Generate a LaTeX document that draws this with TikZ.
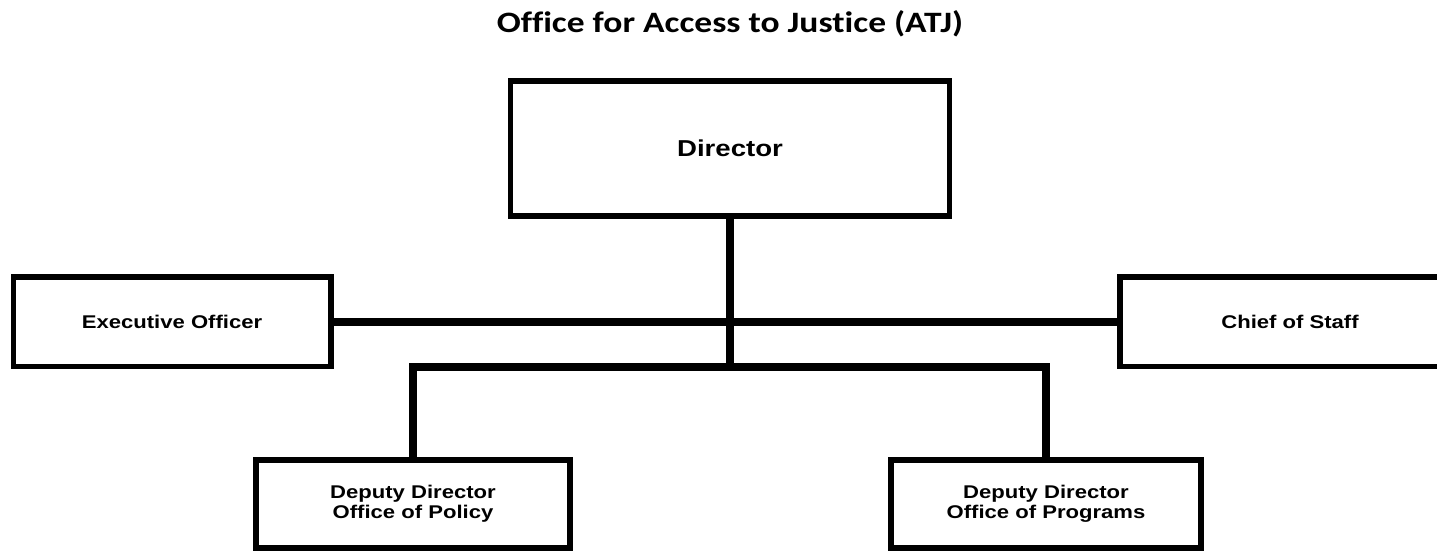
\documentclass[tikz,border=0pt]{standalone}
\usepackage{fontspec}
\newfontfamily\boxfont[FakeStretch=1.2]{Liberation Sans}
\newfontfamily\titlefont[FakeStretch=1.2,Ligatures={NoCommon,NoContextual}]{Carlito}
\begin{document}
\begin{tikzpicture}[x=0.5pt,y=-0.5pt,
    unit/.style={draw, line width=2.75pt, inner sep=0pt, align=center,
        font=\boxfont\bfseries\fontsize{9.2}{10}\selectfont},
    link/.style={line width=4pt}]

    \useasboundingbox (0,0) rectangle (1437,553);

    \node [anchor=base, font=\titlefont\bfseries\fontsize{14.8}{17}\selectfont] (title) at (730,32) {Office for Access to Justice (ATJ)};

    \node [unit, minimum width=219.5pt, minimum height=67.5pt, font=\boxfont\bfseries\fontsize{11.5}{13}\selectfont] (dir) at (730,148.5) {Director};

    \node [unit, minimum width=158.75pt, minimum height=44.75pt] (exec) at (172,321.75) {Executive Officer};
    \node [unit, minimum width=170pt, minimum height=44.75pt] (chief) at (1290,321.75) {Chief of Staff};

    \node [unit, minimum width=157pt, minimum height=44pt] (pol) at (413,504) {Deputy Director\\Office of Policy};
    \node [unit, minimum width=155pt, minimum height=44pt] (prog) at (1046,504) {Deputy Director\\Office of Programs};

    \coordinate (bus) at (730,367);

    \draw [link] (exec.east) -- (chief.west);
    \draw [link] (dir.south) -- (bus);
    \draw [link] (pol.north) |- (bus) -| (prog.north);

\end{tikzpicture}
\end{document}
